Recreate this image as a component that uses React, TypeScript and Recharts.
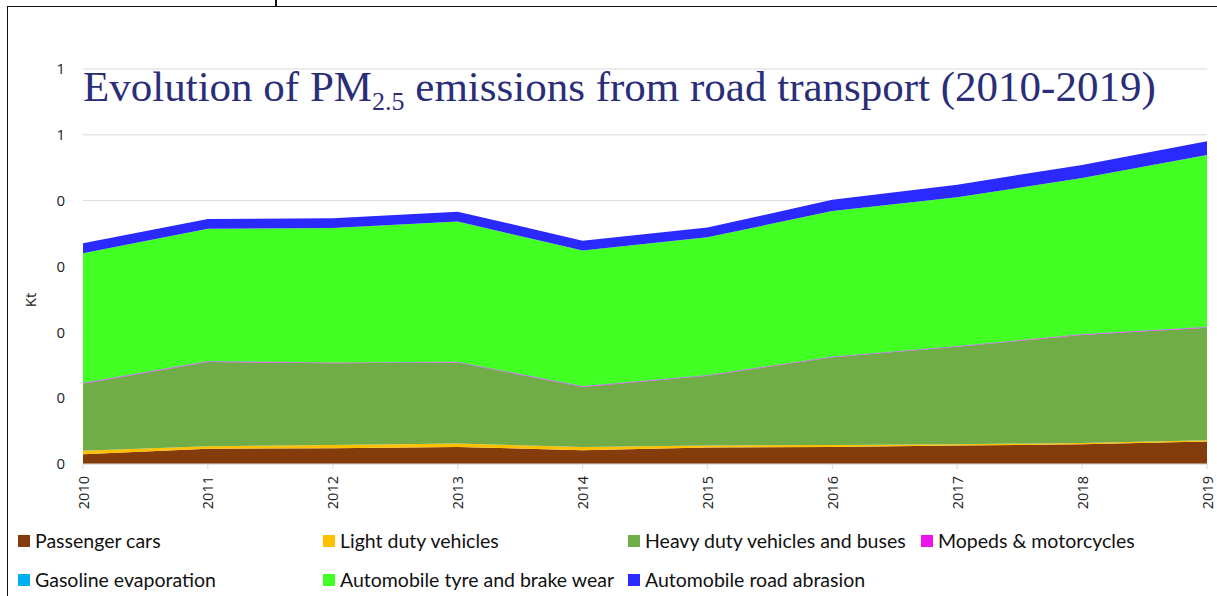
import { Area, AreaChart, CartesianGrid, XAxis, YAxis } from "recharts";

const years = ["2010", "2011", "2012", "2013", "2014", "2015", "2016", "2017", "2018", "2019"];

// kt PM2.5 per source
const passengerCars = [0.015, 0.023, 0.024, 0.026, 0.021, 0.025, 0.026, 0.028, 0.030, 0.034];
const lightDuty = [0.005, 0.004, 0.005, 0.005, 0.005, 0.003, 0.003, 0.002, 0.002, 0.002];
const heavyDuty = [0.102, 0.128, 0.124, 0.123, 0.091, 0.106, 0.133, 0.148, 0.164, 0.171];
const mopeds = [0.001, 0.001, 0.001, 0.001, 0.001, 0.001, 0.001, 0.001, 0.001, 0.001];
const gasolineEvap = [0.0003, 0.0003, 0.0003, 0.0003, 0.0003, 0.0003, 0.0003, 0.0003, 0.0003, 0.0003];
const tyreBrake = [0.197, 0.201, 0.204, 0.213, 0.206, 0.209, 0.221, 0.226, 0.237, 0.261];
const roadAbrasion = [0.015, 0.015, 0.015, 0.015, 0.015, 0.015, 0.017, 0.019, 0.020, 0.021];

const yTicks = [0, 0.1, 0.2, 0.3, 0.4, 0.5, 0.6];

const series = [
  { key: "pc", name: "Passenger cars", color: "#843c0c", values: passengerCars },
  { key: "ldv", name: "Light duty vehicles", color: "#ffc000", values: lightDuty },
  { key: "hdv", name: "Heavy duty vehicles and buses", color: "#70ad47", values: heavyDuty },
  { key: "moto", name: "Mopeds & motorcycles", color: "#ee12ee", values: mopeds },
  { key: "evap", name: "Gasoline evaporation", color: "#00b0f0", values: gasolineEvap },
  { key: "tyre", name: "Automobile tyre and brake wear", color: "#42ff24", values: tyreBrake },
  { key: "road", name: "Automobile road abrasion", color: "#2a2aff", values: roadAbrasion },
];

const data = years.map((year, i) => {
  const row: Record<string, number | string> = { year };
  series.forEach((s) => (row[s.key] = s.values[i]));
  return row;
});

const legendRows = [
  ["pc", "ldv", "hdv", "moto"],
  ["evap", "tyre", "road"],
];
const legendCols = [18, 323, 628, 921];

export default function App() {
  return (
    <div style={{ position: "absolute", left: 0, top: 0, width: 1217, height: 596, background: "#fff", overflow: "hidden" }}>
      {/* frame bits */}
      <div style={{ position: "absolute", left: 7, top: 6, width: 1230, height: 700, border: "1.5px solid #111" }} />
      <div style={{ position: "absolute", left: 275, top: 0, width: 1.5, height: 6, background: "#111" }} />

      <div style={{ position: "absolute", left: 0, top: 0 }}>
        <AreaChart width={1217} height={520} data={data} margin={{ top: 69, right: 10, left: 43, bottom: 6 }}>
          <CartesianGrid vertical={false} stroke="#d9d9d9" />
          <XAxis
            dataKey="year"
            height={50}
            stroke="#d9d9d9"
            tickSize={5}
            tickMargin={7}
            interval={0}
            tick={({ x, y, payload }: any) => (
              <text
                x={x}
                y={y}
                transform={`rotate(-90 ${x} ${y})`}
                textAnchor="end"
                dominantBaseline="central"
                fill="#222"
                fontSize={14.5}
                fontFamily="'Open Sans', sans-serif"
              >
                {payload.value}
              </text>
            )}
          />
          <YAxis
            width={40}
            domain={[0, 0.6]}
            ticks={yTicks}
            axisLine={false}
            tickLine={false}
            tickSize={0}
            tickMargin={18}
            tickFormatter={(v: number) => String(Math.round(v))}
            tick={{ fill: "#222", fontSize: 15, fontFamily: "'Open Sans', sans-serif" }}
          />
          {series.map((s) => (
            <Area
              key={s.key}
              type="linear"
              dataKey={s.key}
              name={s.name}
              stackId="1"
              stroke={s.key === "moto" ? "#d98bd9" : "none"}
              strokeWidth={1}
              fill={s.color}
              fillOpacity={1}
              isAnimationActive={false}
            />
          ))}
        </AreaChart>
      </div>

      <div
        style={{
          position: "absolute",
          left: 30,
          top: 300,
          transform: "translate(-50%, -50%) rotate(-90deg)",
          fontFamily: "'Open Sans', sans-serif",
          fontSize: 15,
          color: "#222",
        }}
      >
        Kt
      </div>

      <div
        style={{
          position: "absolute",
          left: 83,
          top: 65,
          fontFamily: "'Liberation Serif', 'Times New Roman', serif",
          fontSize: 43,
          lineHeight: "43px",
          color: "#2a2d78",
          whiteSpace: "nowrap",
        }}
      >
        Evolution of PM<sub style={{ fontSize: 26, verticalAlign: "-9px", lineHeight: 0 }}>2.5</sub> emissions from road
        transport (2010-2019)
      </div>

      {legendRows.map((row, r) =>
        row.map((key, c) => {
          const s = series.find((x) => x.key === key)!;
          return (
            <div
              key={key}
              style={{
                position: "absolute",
                left: legendCols[c],
                top: 529 + r * 39,
                display: "flex",
                alignItems: "center",
                fontFamily: "Lato, 'Open Sans', sans-serif",
                fontSize: 19.5,
                color: "#111",
                whiteSpace: "nowrap",
              }}
            >
              <span style={{ width: 12, height: 12, background: s.color, marginRight: 5, display: "inline-block" }} />
              {s.name}
            </div>
          );
        })
      )}
    </div>
  );
}
